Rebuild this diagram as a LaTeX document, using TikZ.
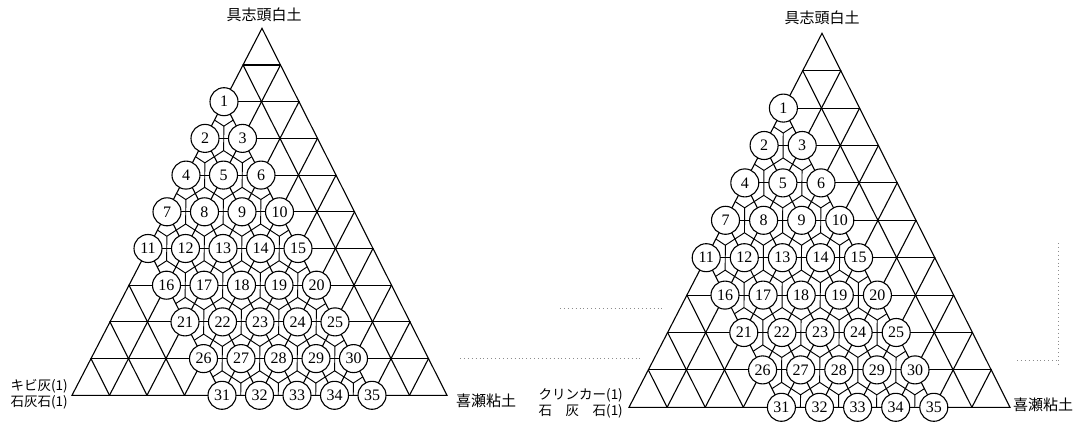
\documentclass[tikz,border=0pt]{standalone}
\usepackage{fontspec}
\setmainfont{Liberation Serif}
\newfontfamily\cjk{Noto Sans CJK JP}
\usetikzlibrary{calc}
\newlength\klen
\tikzset{
  coarse/.style={line width=1.1pt, line cap=round},
  fine/.style={line width=0.95pt, line join=round},
  sample/.style={circle, draw, line width=1.1pt, fill=white, minimum size=28pt, inner sep=0pt, font=\fontsize{16}{16}\selectfont},
  apexlabel/.style={font=\cjk\fontsize{15}{15}\selectfont, inner sep=0pt},
  cornerlabel/.style={font=\cjk\fontsize{13.5}{16}\selectfont, inner sep=0pt, align=right},
  scandots/.style={black!45, line width=0.7pt, dash pattern=on 0.7pt off 3.2pt},
}
\newcommand\ternpanel[7]{%
  \foreach \r in {0,...,20}{%
    \foreach \j in {0,...,\r}{%
      \coordinate (#1-\r-\j) at ({#2+\r/20*(#4-#2)+\j/20*(#6-#4)},{#3+\r/20*(#5-#3)+\j/20*(#7-#5)});
    }%
  }%
  \begin{scope}
    \clip (#1-4-0) -- (#1-12-0) -- (#1-20-8) -- (#1-20-16) -- cycle;
    \foreach \r in {1,...,9}{%
      \foreach \j in {0,...,\r}{%
        \pgfmathtruncatemacro\a{2*\r}\pgfmathtruncatemacro\b{2*\j}%
        \pgfmathtruncatemacro\c{2*\r+1}\pgfmathtruncatemacro\d{2*\j+1}%
        \pgfmathtruncatemacro\e{2*\r+2}\pgfmathtruncatemacro\f{2*\j+2}%
        \coordinate (#1cu) at ($(#1-\a-\b)!2/3!(#1-\e-\d)$);
        \draw[fine] (#1-\c-\b) -- (#1cu) -- (#1-\c-\d) (#1cu) -- (#1-\e-\d);
        \ifnum\j<\r
          \coordinate (#1cd) at ($(#1-\e-\f)!2/3!(#1-\a-\d)$);
          \draw[fine] (#1-\a-\d) -- (#1cd) -- (#1-\c-\d) (#1cd) -- (#1-\c-\f);
        \fi
      }%
    }%
  \end{scope}
  \foreach \k [evaluate=\k as \m using {int(20-\k)}] in {2,4,...,18}{%
    \draw[coarse] (#1-\k-0) -- (#1-\k-\k);
    \draw[coarse] (#1-\k-\k) -- (#1-20-\k);
    \draw[coarse] (#1-\k-0) -- (#1-20-\m);
  }%
  \draw[coarse, line join=miter] (#1-0-0) -- (#1-20-0) -- (#1-20-20) -- cycle;
  \foreach \n/\r/\j in {1/4/0, 2/6/0, 3/6/2, 4/8/0, 5/8/2, 6/8/4, 7/10/0, 8/10/2, 9/10/4, 10/10/6,
      11/12/0, 12/12/2, 13/12/4, 14/12/6, 15/12/8, 16/14/2, 17/14/4, 18/14/6, 19/14/8, 20/14/10,
      21/16/4, 22/16/6, 23/16/8, 24/16/10, 25/16/12, 26/18/6, 27/18/8, 28/18/10, 29/18/12, 30/18/14,
      31/20/8, 32/20/10, 33/20/12, 34/20/14, 35/20/16}{%
    \node[sample] (#1n\n) at (#1-\r-\j) {\n};
  }%
}
\begin{document}
\settowidth{\klen}{\cjk\fontsize{13.5}{16}\selectfont クリンカー(1)}%
\begin{tikzpicture}[x=1pt, y=-1pt]
  \path[use as bounding box] (0,0) rectangle (1083,422);
  % faint scan marks
  \draw[scandots] (460,358) -- (642,358);
  \draw[scandots] (560,308) -- (662,308);
  \draw[scandots] (1017,360) -- (1057,360);
  \draw[scandots] (1058,243) -- (1058,367);
  % left panel
  \ternpanel{L}{262}{28.3}{72}{395.3}{447}{395.3}
  \node[apexlabel] (Ltop) at (264,15) {具志頭白土};
  \node[cornerlabel, anchor=east] (Lleft) at (68,394) {キビ灰(1)\\石灰石(1)};
  \node[apexlabel, anchor=west] (Lright) at (456,401) {喜瀬粘土};
  % right panel
  \ternpanel{R}{822}{33.3}{629}{407.3}{1010}{407.3}
  \node[apexlabel] (Rtop) at (822,18) {具志頭白土};
  \node[cornerlabel, anchor=east] (Rleft) at (623,403) {クリンカー(1)\\\makebox[\klen][s]{石\hfill 灰\hfill 石(1)}};
  \node[apexlabel, anchor=west] (Rright) at (1013,405) {喜瀬粘土};
\end{tikzpicture}
\end{document}
